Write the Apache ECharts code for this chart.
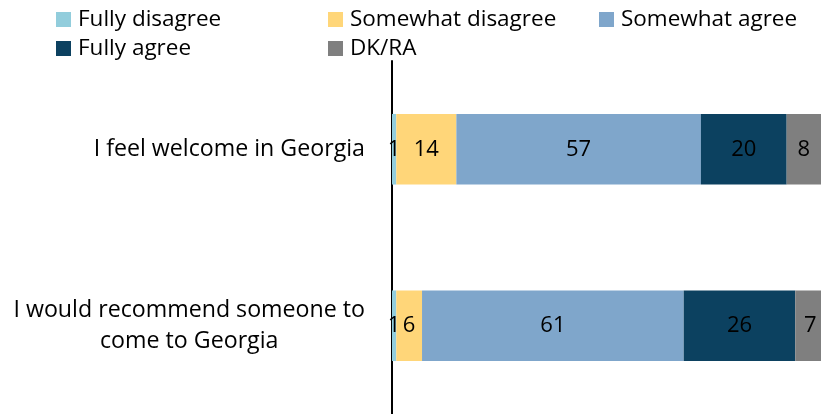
<!DOCTYPE html>
<html>
<head>
<meta charset="utf-8">
<title>Attitudes towards Georgia</title>
<script src="https://cdn.jsdelivr.net/npm/echarts@6/dist/echarts.min.js"></script>
<style>
  html, body { margin: 0; padding: 0; background: #ffffff; }
  #chart { width: 821px; height: 414px; }
</style>
</head>
<body>
<div id="chart"></div>
<script>
// Survey statements (top to bottom)
const categories = [
  'I feel welcome in Georgia',
  'I would recommend someone to\ncome to Georgia'
];

// Answer shares, %
const fullyDisagree    = [1, 1];
const somewhatDisagree = [14, 6];
const somewhatAgree    = [57, 61];
const fullyAgree       = [20, 26];
const dkRa             = [8, 7];

const seriesNames  = ['Fully disagree', 'Somewhat disagree', 'Somewhat agree', 'Fully agree', 'DK/RA'];
const seriesValues = [fullyDisagree, somewhatDisagree, somewhatAgree, fullyAgree, dkRa];
const seriesColors = ['#92CDDC', '#FFD679', '#7FA6CB', '#0C4160', '#7F7F7F'];

const FONT = '"Open Sans", "Noto Sans", sans-serif';

const legendText = { fontFamily: FONT, fontSize: 22.5, color: '#000', lineHeight: 23, padding: [0, 0, 0, 2] };
function legendAt(left, names) {
  return {
    orient: 'vertical', left: left, top: 8, padding: 0,
    itemWidth: 15, itemHeight: 15, itemGap: 6,
    icon: 'rect', selectedMode: false,
    textStyle: legendText,
    data: names
  };
}

const chart = echarts.init(document.getElementById('chart'), null, { renderer: 'canvas' });

chart.setOption({
  animation: false,
  backgroundColor: '#ffffff',
  legend: [
    legendAt(56, ['Fully disagree', 'Fully agree']),
    legendAt(328, ['Somewhat disagree', 'DK/RA']),
    legendAt(599, ['Somewhat agree'])
  ],
  grid: { left: 392, top: 61, width: 435, height: 355, containLabel: false },
  xAxis: {
    type: 'value', min: 0, max: 100,
    show: false
  },
  yAxis: {
    type: 'category',
    inverse: true,
    data: categories,
    axisLine: { show: true, lineStyle: { color: '#000', width: 2 } },
    axisTick: { show: false },
    splitLine: { show: false },
    axisLabel: {
      margin: 27,
      formatter: function (v) {
        return v.split('\n').map(function (l) { return '{c|' + l + '}'; }).join('\n');
      },
      rich: {
        c: { align: 'center', fontFamily: FONT, fontSize: 23.2, color: '#000', lineHeight: 31 }
      }
    }
  },
  series: seriesNames.map(function (name, i) {
    return {
      name: name,
      type: 'bar',
      stack: 'total',
      barWidth: '40%',
      clip: false,
      itemStyle: { color: seriesColors[i] },
      label: {
        show: true, position: 'inside',
        fontFamily: FONT, fontSize: 22, color: '#000'
      },
      emphasis: { disabled: true },
      data: seriesValues[i]
    };
  })
});
</script>
</body>
</html>
